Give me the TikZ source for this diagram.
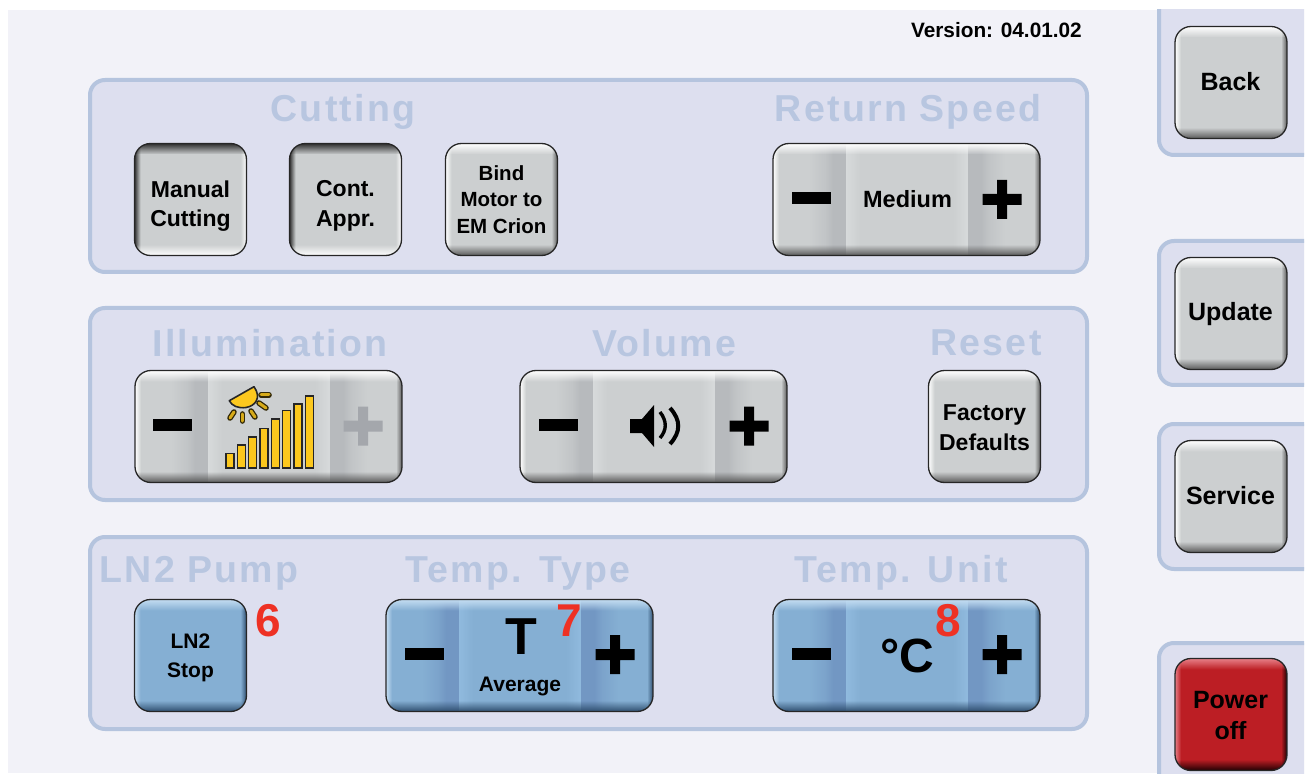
\documentclass[tikz,border=0pt]{standalone}
\usepackage{fontspec}
\usetikzlibrary{fadings}
\setmainfont{Liberation Sans}
\newfontfamily\spacedfont[LetterSpace=6]{Liberation Sans}
\definecolor{pagebg}{HTML}{F2F2F8}
\definecolor{panelfill}{HTML}{DDDFEF}
\definecolor{panelline}{HTML}{B5C4DE}
\definecolor{titlecol}{HTML}{B8C6E0}
\definecolor{grbase}{HTML}{CCCFD0}
\definecolor{grdark}{HTML}{B7BABD}
\definecolor{grlight}{HTML}{D7DADB}
\definecolor{blbase}{HTML}{85AFD3}
\definecolor{bldark}{HTML}{7297C3}
\definecolor{bllight}{HTML}{90BADE}
\definecolor{rdbase}{HTML}{BC1E24}
\definecolor{numred}{HTML}{EE3124}
\definecolor{sunyel}{HTML}{FCC81E}
\definecolor{plusgrey}{HTML}{A4A7AC}
\definecolor{edgewhite}{HTML}{FFFFFF}
\definecolor{edgepress}{HTML}{303030}
\definecolor{edgegrey}{HTML}{5A5A5A}
\definecolor{edgebluetop}{HTML}{C4DDF2}
\definecolor{edgebluebot}{HTML}{2F4F70}
\definecolor{edgeredtop}{HTML}{E88088}
\definecolor{edgeredbot}{HTML}{200003}
\newcommand\fs[2]{\fontsize{#1}{#2}\selectfont}
% vertical stripes of a wide button: left x, centre y, height, dark, light, base
\newcommand\btnstripes[6]{%
  \shade[left color=#6,right color=#4!50!#6] ({#1+36},{#2-#3/2}) rectangle ({#1+52},{#2+#3/2});
  \shade[left color=#4!50!#6,right color=#4] ({#1+52},{#2-#3/2}) rectangle ({#1+60},{#2+#3/2});
  \fill[#4] ({#1+60},{#2-#3/2}) rectangle ({#1+73},{#2+#3/2});
  \shade[left color=#5,right color=#6] ({#1+73},{#2-#3/2}) rectangle ({#1+87},{#2+#3/2});
  \shade[left color=#6,right color=#5] ({#1+180},{#2-#3/2}) rectangle ({#1+195},{#2+#3/2});
  \fill[#4] ({#1+195},{#2-#3/2}) rectangle ({#1+208},{#2+#3/2});
  \shade[left color=#4,right color=#4!50!#6] ({#1+208},{#2-#3/2}) rectangle ({#1+216},{#2+#3/2});
  \shade[left color=#4!50!#6,right color=#6] ({#1+216},{#2-#3/2}) rectangle ({#1+232},{#2+#3/2});}
% a button's body: centre x, centre y, width, height, base colour, top edge, bottom edge, stripes
\newcommand\btnbody[8]{%
  \begin{scope}
    \clip[rounded corners=16pt] ({#1-#3/2},{#2-#4/2}) rectangle ({#1+#3/2},{#2+#4/2});
    \fill[#5] ({#1-#3/2},{#2-#4/2}) rectangle ({#1+#3/2},{#2+#4/2});
    #8
    \fill[#6,path fading=east] ({#1-#3/2},{#2-#4/2}) rectangle ({#1-#3/2+6},{#2+#4/2});
    \fill[#7,path fading=west] ({#1+#3/2-6},{#2-#4/2}) rectangle ({#1+#3/2},{#2+#4/2});
    \fill[#6,path fading=south] ({#1-#3/2},{#2-#4/2}) rectangle ({#1+#3/2},{#2-#4/2+11});
    \fill[#7,path fading=north] ({#1-#3/2},{#2+#4/2-11}) rectangle ({#1+#3/2},{#2+#4/2});
  \end{scope}}
\newcommand\minussign[3]{\fill[#3] ({#1-19.5},{#2-6}) rectangle ({#1+19.5},{#2+6});}
\newcommand\plussign[3]{\fill[#3] ({#1-19.5},{#2-5.5}) rectangle ({#1+19.5},{#2+5.5}) ({#1-5},{#2-19.5}) rectangle ({#1+5},{#2+19.5});}
\tikzset{
  x=1pt,y=-1pt,
  panelbox/.style={fill=panelfill,draw=panelline,line width=4pt,rounded corners=15pt},
  sq/.style={draw=black!85,line width=1.3pt,rounded corners=16pt,inner sep=0pt,minimum width=112pt,minimum height=112pt},
  wide/.style={sq,minimum width=267pt},
  plaintext/.style={inner sep=0pt,text=black,align=center},
  btntext/.style={plaintext,font=\bfseries\fs{23}{29.5}},
  smalltext/.style={plaintext,font=\bfseries\fs{20.5}{26.5}},
  sidetext/.style={plaintext,font=\bfseries\fs{25}{31}},
  titletext/.style={font=\spacedfont\bfseries\fs{37.5}{40},text=titlecol,inner sep=0pt},
  numtext/.style={font=\bfseries\fs{46}{46},text=numred,inner sep=0pt},
  ray/.style={line cap=round,line width=5.6pt,draw=black!80!sunyel},
  rayin/.style={line cap=round,line width=3pt,draw=sunyel!85!black},
  barbox/.style={fill=sunyel,draw=black!85,line width=1.5pt},
}
\begin{document}
\begin{tikzpicture}
\useasboundingbox (0,0) rectangle (1309,775);
\fill[white] (0,0) rectangle (1309,775);
\fill[pagebg] (8,10) rectangle (1304,773);
% panels
\draw[panelbox] (90,80) rectangle (1087,272);
\draw[panelbox] (90,308) rectangle (1087,500);
\draw[panelbox] (90,537) rectangle (1087,729);
\begin{scope}
  \clip (1100,10) rectangle (1304,773);
  \draw[panelbox] (1159,-20) rectangle (1340,155);
  \draw[panelbox] (1159,241) rectangle (1340,385);
  \draw[panelbox] (1159,424) rectangle (1340,569);
  \draw[panelbox] (1159,643) rectangle (1340,820);
\end{scope}
\node[plaintext,anchor=east,font=\bfseries\fs{20.8}{24}] (version) at (1082,30) {Version: 04.01.02};
% titles
\node[titletext] (tcut) at (343,112) {Cutting};
\node[titletext] (tret) at (908,112) {Return Speed};
\node[titletext] (till) at (270,343) {Illumination};
\node[titletext] (tvol) at (664,343) {Volume};
\node[titletext] (trst) at (986,343) {Reset};
\node[titletext] (tlnp) at (199,573) {LN2 Pump};
\node[titletext] (ttyp) at (518,573) {Temp. Type};
\node[titletext] (tuni) at (901,573) {Temp. Unit};
% row 1
\btnbody{190.5}{199.5}{112}{112}{grbase}{edgepress}{edgewhite}{}
\node[sq] (manual) at (190.5,199.5) {};
\node[btntext] (manualtext) at (190.5,206) {Manual\\Cutting};
\btnbody{345.5}{199.5}{112}{112}{grbase}{edgepress}{edgewhite}{}
\node[sq] (cont) at (345.5,199.5) {};
\node[btntext] (conttext) at (345.5,206) {Cont.\\Appr.};
\btnbody{501.5}{199.5}{112}{112}{grbase}{edgewhite}{edgegrey}{}
\node[sq] (bind) at (501.5,199.5) {};
\node[smalltext] (bindtext) at (501.5,199.5) {Bind\\Motor to\\EM Crion};
\btnbody{906.5}{199.5}{267}{112}{grbase}{edgewhite}{edgegrey}{\btnstripes{773}{199.5}{112}{grdark}{grlight}{grbase}}
\node[sq,wide] (speed) at (906.5,199.5) {};
\node[btntext,font=\bfseries\fs{23.5}{29}] (speedtext) at (907.5,199.5) {Medium};
\minussign{811.5}{198}{black}
\plussign{1002}{199.5}{black}
% row 2
\btnbody{268.5}{426.5}{267}{112}{grbase}{edgewhite}{edgegrey}{\btnstripes{135}{426.5}{112}{grdark}{grlight}{grbase}}
\node[sq,wide] (illum) at (268.5,426.5) {};
\minussign{172.5}{425}{black}
\plussign{363}{426}{plusgrey}
\foreach \ax/\ay/\bx/\by in {261/395/269/395,259/403/266/408,251/411/255/417,242.3/414/242.3/421,234/412/230/418}{
  \draw[ray] (\ax,\ay) -- (\bx,\by);
  \draw[rayin] (\ax,\ay) -- (\bx,\by);
}
\draw[fill=sunyel,draw=black!85,line width=1.6pt,line join=round] (254,386.7) .. controls (262,398) and (255,406) .. (246,407.5) .. controls (238,408.5) and (232,406) .. (229.3,400.7) -- cycle;
\foreach \bx/\by in {226/453.5,237.3/445,248.7/437,260/428.5,271.3/419,282.7/410.5,294/404,305.3/396}{
  \draw[barbox] (\bx,\by) rectangle ({\bx+8},468);
}
\btnbody{653.5}{426.5}{267}{112}{grbase}{edgewhite}{edgegrey}{\btnstripes{520}{426.5}{112}{grdark}{grlight}{grbase}}
\node[sq,wide] (volume) at (653.5,426.5) {};
\minussign{558.5}{425}{black}
\plussign{749}{426}{black}
\fill[black] (630,419) -- (642,419) -- (654,405) -- (654,447) -- (642,433) -- (630,433) -- cycle;
\draw[black,line width=3.4pt] (660,412) .. controls (667,421) and (667,430) .. (660,438);
\draw[black,line width=4pt] (670,408) .. controls (681,420) and (681,432) .. (670,444);
\btnbody{984.5}{426.5}{112}{112}{grbase}{edgewhite}{edgegrey}{}
\node[sq] (factory) at (984.5,426.5) {};
\node[btntext] (factorytext) at (984.5,427.5) {Factory\\Defaults};
% row 3
\btnbody{190.5}{655.5}{112}{112}{blbase}{edgebluetop}{edgebluebot}{}
\node[sq] (lnstop) at (190.5,655.5) {};
\node[plaintext,font=\bfseries\fs{21}{29.5}] (lnstoptext) at (190.5,658) {LN2\\Stop};
\btnbody{519.5}{655.5}{267}{112}{blbase}{edgebluetop}{edgebluebot}{\btnstripes{386}{655.5}{112}{bldark}{bllight}{blbase}}
\node[sq,wide] (ttype) at (519.5,655.5) {};
\minussign{424.5}{653.5}{black}
\plussign{615}{654.5}{black}
\node[plaintext,font=\bfseries\fs{52}{52}] (tsym) at (521,637) {T};
\node[plaintext,font=\bfseries\fs{21}{24}] (tavg) at (520,686) {Average};
\btnbody{906.5}{655.5}{267}{112}{blbase}{edgebluetop}{edgebluebot}{\btnstripes{773}{655.5}{112}{bldark}{bllight}{blbase}}
\node[sq,wide] (tunit) at (906.5,655.5) {};
\minussign{811.5}{653.5}{black}
\plussign{1002}{654.5}{black}
\node[plaintext,font=\bfseries\fs{48}{48}] (csym) at (907,656) {°C};
\node[numtext] (six) at (268,621) {6};
\node[numtext] (seven) at (569,621) {7};
\node[numtext] (eight) at (948,621) {8};
% side buttons
\btnbody{1231}{82.5}{112}{112}{grbase}{edgewhite}{edgegrey}{}
\node[sq] (back) at (1231,82.5) {};
\node[sidetext] (backtext) at (1230.5,81.5) {Back};
\btnbody{1231}{313.5}{112}{112}{grbase}{edgewhite}{edgegrey}{}
\node[sq] (update) at (1231,313.5) {};
\node[sidetext] (updatetext) at (1230.5,314.5) {Update};
\btnbody{1231}{496.5}{112}{112}{grbase}{edgewhite}{edgegrey}{}
\node[sq] (service) at (1231,496.5) {};
\node[sidetext] (servicetext) at (1230.5,495.5) {Service};
\btnbody{1231}{714.5}{112}{112}{rdbase}{edgeredtop}{edgeredbot}{}
\node[sq] (power) at (1231,714.5) {};
\node[sidetext] (powertext) at (1230.5,715.5) {Power\\off};
\end{tikzpicture}
\end{document}
